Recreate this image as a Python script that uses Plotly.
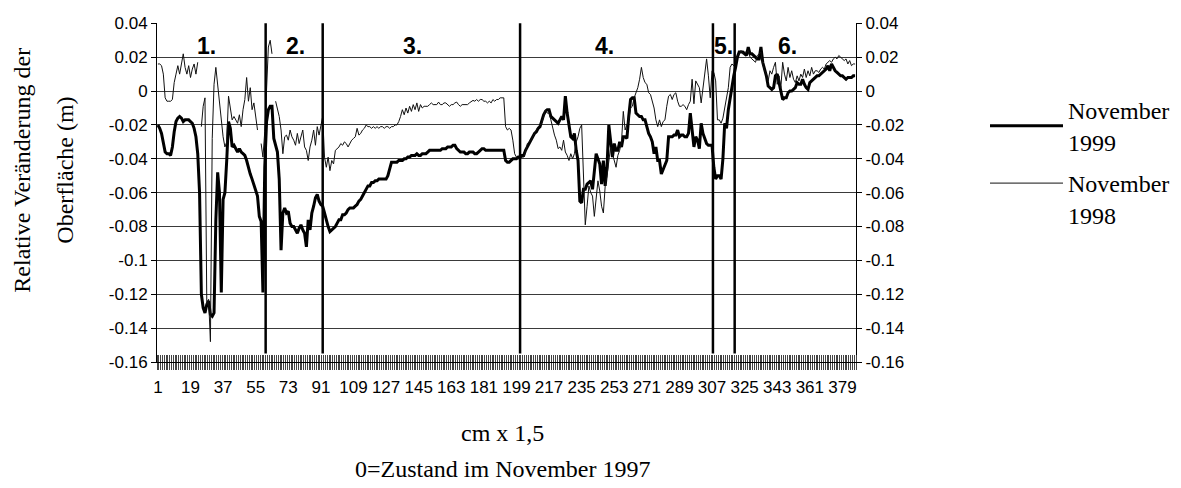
import plotly.graph_objects as go

# ---------------- data ----------------
positions = list(range(1, 387))

nov1999 = [
    -0.020, -0.022, -0.025, -0.030, -0.036, -0.037, -0.037, -0.038, -0.033, -0.024,
    -0.018, -0.016, -0.015, -0.016, -0.018, -0.017, -0.017, -0.017, -0.018, -0.019,
    -0.022, -0.027, -0.037, -0.060, -0.120, -0.128, -0.131, -0.126, -0.124, -0.132,
    -0.133, -0.131, -0.076, -0.048, -0.060, -0.119, -0.064, -0.060, -0.041, -0.018,
    -0.022, -0.033, -0.032, -0.034, -0.036, -0.034, -0.036, -0.037, -0.038, -0.041,
    -0.046, -0.049, -0.052, -0.055, -0.058, -0.062, -0.074, -0.077, -0.119, -0.045,
    -0.018, -0.011, -0.009, -0.009, -0.028, -0.033, -0.036, -0.052, -0.094, -0.072,
    -0.069, -0.072, -0.071, -0.078, -0.080, -0.080, -0.082, -0.084, -0.081, -0.079,
    -0.082, -0.084, -0.092, -0.076, -0.082, -0.072, -0.068, -0.063, -0.061, -0.065,
    -0.067, -0.068, -0.072, -0.077, -0.080, -0.083, -0.082, -0.081, -0.080, -0.078,
    -0.076, -0.076, -0.073, -0.073, -0.072, -0.070, -0.069, -0.069, -0.069, -0.068,
    -0.067, -0.065, -0.064, -0.062, -0.060, -0.058, -0.056, -0.056, -0.054, -0.054,
    -0.053, -0.053, -0.052, -0.052, -0.052, -0.052, -0.052, -0.050, -0.045, -0.042,
    -0.042, -0.042, -0.042, -0.041, -0.041, -0.041, -0.040, -0.040, -0.039, -0.039,
    -0.038, -0.038, -0.038, -0.037, -0.038, -0.038, -0.037, -0.037, -0.037, -0.036,
    -0.035, -0.035, -0.035, -0.035, -0.035, -0.035, -0.035, -0.034, -0.034, -0.034,
    -0.033, -0.033, -0.033, -0.032, -0.032, -0.034, -0.035, -0.036, -0.036, -0.036,
    -0.037, -0.037, -0.036, -0.036, -0.036, -0.037, -0.037, -0.036, -0.035, -0.034,
    -0.034, -0.035, -0.035, -0.035, -0.035, -0.035, -0.035, -0.035, -0.035, -0.035,
    -0.035, -0.035, -0.041, -0.042, -0.042, -0.041, -0.040, -0.040, -0.040, -0.039,
    -0.039, -0.038, -0.038, -0.035, -0.033, -0.031, -0.029, -0.027, -0.025, -0.024,
    -0.022, -0.021, -0.017, -0.014, -0.012, -0.011, -0.011, -0.015, -0.016, -0.017,
    -0.018, -0.019, -0.017, -0.015, -0.017, -0.003, -0.013, -0.020, -0.027, -0.028,
    -0.025, -0.035, -0.041, -0.065, -0.066, -0.058, -0.058, -0.055, -0.054, -0.053,
    -0.058, -0.047, -0.037, -0.040, -0.043, -0.055, -0.041, -0.056, -0.045, -0.020,
    -0.029, -0.039, -0.031, -0.035, -0.035, -0.030, -0.033, -0.027, -0.027, -0.028,
    -0.015, -0.005, -0.004, -0.004, -0.013, -0.014, -0.015, -0.015, -0.017, -0.017,
    -0.021, -0.025, -0.027, -0.030, -0.037, -0.033, -0.041, -0.041, -0.049, -0.046,
    -0.043, -0.041, -0.027, -0.027, -0.027, -0.026, -0.026, -0.023, -0.027, -0.026,
    -0.026, -0.027, -0.027, -0.025, -0.013, -0.023, -0.033, -0.027, -0.029, -0.034,
    -0.019, -0.025, -0.028, -0.031, -0.032, -0.032, -0.032, -0.045, -0.052, -0.050,
    -0.050, -0.052, -0.040, -0.019, -0.022, -0.011, -0.004, 0.002, 0.009, 0.014,
    0.020, 0.023, 0.023, 0.023, 0.022, 0.021, 0.026, 0.022, 0.022, 0.021,
    0.020, 0.019, 0.019, 0.026, 0.017, 0.013, 0.009, 0.003, 0.002, 0.001,
    0.002, 0.009, 0.010, 0.005, 0.000, -0.005, -0.004, -0.004, -0.001, 0.000,
    0.000, 0.001, 0.002, 0.005, 0.004, 0.004, 0.007, 0.004, 0.002, 0.001,
    0.005, 0.006, 0.007, 0.008, 0.009, 0.009, 0.010, 0.011, 0.012, 0.013,
    0.015, 0.012, 0.016, 0.014, 0.012, 0.011, 0.010, 0.009, 0.009, 0.008,
    0.007, 0.008, 0.008, 0.008, 0.009, 0.009,
]

nov1998 = [
    0.016, 0.016, 0.015, 0.010, -0.004, -0.006, -0.006, -0.006, -0.005, 0.005,
    0.010, 0.015, 0.010, 0.016, 0.022, 0.014, 0.010, 0.015, 0.008, 0.013,
    0.016, 0.010, 0.017, None, -0.021, -0.009, -0.004, -0.126, -0.123, -0.148,
    -0.028, 0.004, 0.014, 0.004, -0.006, -0.019, -0.027, -0.033, -0.030, -0.003,
    -0.009, -0.017, -0.015, -0.017, -0.019, -0.014, -0.021, -0.011, -0.005, 0.008,
    -0.006, 0.002, -0.011, -0.007, -0.015, -0.023, None, -0.031, -0.039, -0.024,
    0.006, 0.026, 0.030, 0.022, None, -0.006, -0.010, -0.015, -0.023, -0.037,
    -0.027, -0.026, -0.029, -0.023, -0.027, -0.029, -0.032, -0.025, -0.031, -0.026,
    -0.023, -0.033, -0.035, -0.041, -0.033, -0.029, -0.023, -0.032, -0.021, -0.026,
    -0.020, -0.015, -0.039, -0.045, -0.039, -0.047, -0.041, -0.043, -0.035, -0.034,
    -0.033, -0.031, -0.032, -0.030, -0.031, -0.033, -0.031, -0.029, -0.028, -0.027,
    -0.022, -0.026, -0.025, -0.023, -0.022, -0.020, -0.021, -0.021, -0.022, -0.021,
    -0.022, -0.021, -0.022, -0.021, -0.021, -0.022, -0.021, -0.021, -0.022, -0.021,
    -0.021, -0.020, -0.020, -0.018, -0.015, -0.011, -0.014, -0.010, -0.013, -0.009,
    -0.012, -0.008, -0.011, -0.007, -0.012, -0.008, -0.010, -0.009, -0.009, -0.009,
    -0.008, -0.007, -0.008, -0.008, -0.008, -0.0065, -0.008, -0.008, -0.007, -0.007,
    -0.008, -0.009, -0.008, -0.008, -0.007, -0.0065, -0.008, -0.009, -0.008, -0.008,
    -0.008, -0.008, -0.007, -0.006, -0.0055, -0.006, -0.005, -0.006, -0.005, -0.005,
    -0.006, -0.006, -0.007, -0.006, -0.007, -0.005, -0.006, -0.005, -0.005, -0.004,
    -0.004, -0.004, -0.021, -0.023, -0.022, -0.023, -0.029, -0.037, -0.039, -0.040,
    -0.040, -0.039, -0.039, -0.036, -0.031, -0.030, -0.029, -0.027, -0.025, -0.023,
    -0.021, -0.020, -0.019, -0.015, -0.011, -0.013, -0.013, -0.017, -0.022, -0.026,
    -0.029, -0.034, -0.033, -0.035, -0.029, -0.036, -0.038, -0.041, -0.037, -0.040,
    -0.037, -0.030, -0.027, -0.022, -0.020, -0.047, -0.079, -0.068, -0.056, -0.060,
    -0.062, -0.074, -0.062, -0.053, -0.059, -0.068, -0.072, -0.056, -0.050, -0.041,
    -0.033, -0.037, -0.041, -0.045, -0.038, -0.035, -0.030, -0.012, -0.023, -0.020,
    -0.017, -0.010, -0.009, -0.004, -0.001, 0.002, 0.007, 0.014, 0.008, 0.005,
    0.004, -0.001, -0.002, -0.0065, -0.010, -0.017, -0.021, -0.017, -0.021, -0.018,
    -0.017, -0.009, -0.003, -0.002, -0.005, -0.002, -0.001, -0.006, -0.009, -0.009,
    -0.008, -0.009, -0.011, -0.008, -0.006, 0.007, -0.0075, 0.006, 0.004, 0.002,
    -0.007, 0.003, 0.012, 0.019, 0.009, -0.004, 0.012, 0.011, 0.006, -0.017,
    -0.017, -0.019, -0.016, -0.010, -0.005, 0.002, 0.014, 0.016, 0.015, 0.017,
    0.021, 0.022, 0.024, 0.022, 0.023, 0.023, 0.024, 0.020, 0.019, 0.018,
    0.017, 0.021, 0.022, 0.023, 0.016, 0.012, 0.010, 0.006, 0.012, 0.010,
    0.014, 0.017, 0.004, 0.009, 0.002, 0.017, 0.010, 0.006, 0.014, 0.008,
    0.012, 0.007, 0.005, 0.009, 0.006, 0.010, 0.008, 0.013, 0.008, 0.012,
    0.009, 0.014, 0.010, 0.012, 0.012, 0.011, 0.013, 0.014, 0.013, 0.016,
    0.017, 0.018, 0.017, 0.019, 0.020, 0.019, 0.021, 0.020, 0.019, 0.018,
    0.019, 0.016, 0.018, 0.015, 0.016, 0.016,
]

x_tick_vals = list(range(1, 380, 18))
x_tick_text = [str(v) for v in x_tick_vals]
y_tick_vals = [0.04, 0.02, 0.0, -0.02, -0.04, -0.06, -0.08, -0.10, -0.12, -0.14, -0.16]
y_tick_text = ["0.04", "0.02", "0", "-0.02", "-0.04", "-0.06", "-0.08", "-0.1",
               "-0.12", "-0.14", "-0.16"]

section_bounds = [60.5, 92, 201, 307.5, 319.5]
section_line_top = 0.04
section_line_bottom = -0.155
section_names = ["1.", "2.", "3.", "4.", "5.", "6."]
section_name_x = [27.9, 77, 141.6, 247.5, 313.2, 348.5]
section_name_y = 0.0265

series_names = ["November<br>1999", "November<br>1998"]

# ---------------- figure ----------------
fig = go.Figure()

fig.add_trace(go.Scatter(
    x=positions, y=nov1999, mode="lines", name=series_names[0],
    line=dict(color="black", width=3), legend="legend",
))
fig.add_trace(go.Scatter(
    x=positions, y=nov1998, mode="lines", name=series_names[1],
    line=dict(color="#111111", width=1), legend="legend2",
))

# section divider lines
div_x, div_y = [], []
for b in section_bounds:
    div_x += [b, b, None]
    div_y += [section_line_top, section_line_bottom, None]
fig.add_trace(go.Scatter(
    x=div_x, y=div_y, mode="lines", xaxis="x2", yaxis="y",
    line=dict(color="black", width=2.5), showlegend=False, hoverinfo="skip",
))

# invisible helper on right axis so it is drawn
fig.add_trace(go.Scatter(
    x=[positions[0]], y=[nov1999[0]], mode="lines", yaxis="y2",
    line=dict(color="rgba(0,0,0,0)"), showlegend=False, hoverinfo="skip",
))

for name, sx in zip(section_names, section_name_x):
    fig.add_annotation(
        x=sx, y=section_name_y, xref="x", yref="y", text="<b>%s</b>" % name,
        showarrow=False, font=dict(family="Liberation Sans", size=23, color="black"),
    )

xr = [0.5, 386.5]
yr = [-0.16, 0.0402]
tick_font = dict(family="Liberation Sans", size=17, color="black")

fig.update_layout(
    width=1181, height=488,
    margin=dict(l=157, r=325, t=23, b=126),
    paper_bgcolor="white", plot_bgcolor="white",
    showlegend=True,
    xaxis=dict(
        range=xr, tickmode="array", tickvals=x_tick_vals, ticktext=x_tick_text,
        tickangle=0, ticks="", showgrid=False, zeroline=False,
        showline=True, linecolor="black", linewidth=1,
        tickfont=tick_font, ticklabelstandoff=10,
        minor=dict(ticks="outside", tickmode="linear", tick0=0.5, dtick=1,
                   ticklen=7, tickcolor="#444444", tickwidth=1, showgrid=False),
    ),
    xaxis2=dict(
        range=xr, overlaying="x", anchor="y", side="bottom",
        showticklabels=False, ticks="", showgrid=False, zeroline=False, showline=False,
        minor=dict(ticks="inside", tickmode="linear", tick0=0.5, dtick=1,
                   ticklen=7, tickcolor="#444444", tickwidth=1, showgrid=False),
    ),
    yaxis=dict(
        range=yr, tickmode="array", tickvals=y_tick_vals, ticktext=y_tick_text,
        ticks="outside", ticklen=5, tickcolor="black",
        showgrid=True, gridcolor="#3a3a3a", gridwidth=1, zeroline=False,
        showline=True, linecolor="black", linewidth=1, tickfont=tick_font,
    ),
    yaxis2=dict(
        range=yr, overlaying="y", side="right", anchor="x",
        tickmode="array", tickvals=y_tick_vals, ticktext=y_tick_text,
        ticks="outside", ticklen=5, tickcolor="black",
        showgrid=False, zeroline=False,
        showline=True, linecolor="black", linewidth=1, tickfont=tick_font,
    ),
    legend=dict(
        xref="container", yref="container", x=985 / 1181, y=1 - 88 / 488,
        xanchor="left", yanchor="top", valign="middle", itemwidth=73,
        font=dict(family="Liberation Serif", size=24, color="black"),
        bgcolor="rgba(0,0,0,0)", borderwidth=0,
    ),
    legend2=dict(
        xref="container", yref="container", x=985 / 1181, y=1 - 161 / 488,
        xanchor="left", yanchor="top", valign="top", itemwidth=73,
        font=dict(family="Liberation Serif", size=24, color="black"),
        bgcolor="rgba(0,0,0,0)", borderwidth=0,
    ),
)

# axis titles as text lines
title_font = dict(family="Liberation Serif", size=24, color="black")
fig.add_annotation(xref="paper", yref="paper", x=(22 - 157.3) / 698.7,
                   y=1 - (170 - 23) / 339, text="Relative Veränderung der",
                   textangle=-90, showarrow=False, font=title_font,
                   xanchor="center", yanchor="middle")
fig.add_annotation(xref="paper", yref="paper", x=(65 - 157.3) / 698.7,
                   y=1 - (170 - 23) / 339, text="Oberfläche (m)",
                   textangle=-90, showarrow=False, font=title_font,
                   xanchor="center", yanchor="middle")
fig.add_annotation(xref="paper", yref="paper", x=(503 - 157.3) / 698.7,
                   y=-(433 - 362) / 339, text="cm x 1,5",
                   showarrow=False, font=title_font,
                   xanchor="center", yanchor="middle")
fig.add_annotation(xref="paper", yref="paper", x=(503 - 157.3) / 698.7,
                   y=-(469 - 362) / 339, text="0=Zustand im November 1997",
                   showarrow=False, font=title_font,
                   xanchor="center", yanchor="middle")

fig.write_html("out.html", config={"displayModeBar": False},
               post_script="document.body.style.margin='0';document.body.style.padding='0';")
